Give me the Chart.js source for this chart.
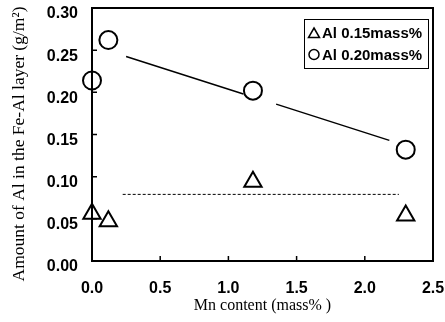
<!DOCTYPE html>
<html>
<head>
<meta charset="utf-8">
<script src="https://cdn.jsdelivr.net/npm/chart.js@4"></script>
<style>
  body { margin: 0; background: #fff; overflow: hidden; }
  canvas { display: block; }
</style>
</head>
<body>
<canvas id="mn-chart" width="445" height="322"></canvas>
<script>
// Mn content (mass%) and Al picked up in the Fe-Al layer (g/m2)
const mnBath015 = [0.0, 0.12, 1.18, 2.3];
const alBath015 = [0.056, 0.047, 0.094, 0.054];
const mnBath020 = [0.0, 0.12, 1.18, 2.3];
const alBath020 = [0.214, 0.262, 0.202, 0.132];

// trend lines (solid one broken around the 1.18 point)
const trend020X = [0.25, 1.11, 1.23, 1.35, 2.18];
const trend020Y = [0.2425, 0.198, null, 0.186, 0.143];
const trend015X = [0.225, 2.25];
const trend015Y = [0.079, 0.079];

const xTicks = [0, 0.5, 1.0, 1.5, 2.0, 2.5];
const yTicks = [0, 0.05, 0.10, 0.15, 0.20, 0.25, 0.30];

const legendItems = ["Al 0.15mass%", "Al 0.20mass%"];

function pts(xs, ys) {
  return xs.map((x, i) => ({x: x, y: ys[i]}));
}

const tickFont = {family: "'Liberation Sans', Arial, sans-serif", size: 16, weight: "bold"};
const plotTop = 8;

// frame, inward tick marks, y title and boxed legend
const decorations = {
  id: "decorations",
  afterLayout(chart) {
    // pull the plot frame up to the top edge
    const a = chart.chartArea;
    const ys = chart.scales.y;
    a.top = plotTop;
    a.height = a.bottom - plotTop;
    ys.top = plotTop;
    ys.height = ys.bottom - plotTop;
    ys.configure();
  },
  beforeDatasetsDraw(chart) {
    const ctx = chart.ctx;
    const a = chart.chartArea;
    const xs = chart.scales.x, ys = chart.scales.y;
    ctx.save();
    ctx.strokeStyle = "#000";
    ctx.lineWidth = 2;
    ctx.strokeRect(a.left, a.top, a.right - a.left, a.bottom - a.top);
    ctx.lineWidth = 1.5;
    ctx.beginPath();
    xTicks.slice(1, -1).forEach(v => {
      const px = xs.getPixelForValue(v);
      ctx.moveTo(px, a.bottom);
      ctx.lineTo(px, a.bottom - 5);
    });
    yTicks.slice(1, -1).forEach(v => {
      const py = ys.getPixelForValue(v);
      ctx.moveTo(a.left, py);
      ctx.lineTo(a.left + 5, py);
    });
    ctx.stroke();

    ctx.fillStyle = "#000";
    ctx.font = "17.5px 'Liberation Serif', 'Times New Roman', serif";
    ctx.translate(19, 144);
    ctx.rotate(-Math.PI / 2);
    ctx.textAlign = "center";
    ctx.textBaseline = "middle";
    ctx.fillText("Amount of Al in the Fe-Al layer (g/m\u00B2)", 0, 0);
    ctx.restore();
  },
  afterDraw(chart) {
    const ctx = chart.ctx;
    ctx.save();
    ctx.strokeStyle = "#000";
    ctx.lineWidth = 1;
    ctx.strokeRect(304.5, 19.5, 124, 49);
    ctx.lineWidth = 1.5;
    // triangle marker
    ctx.beginPath();
    ctx.moveTo(314, 28);
    ctx.lineTo(319.5, 37.5);
    ctx.lineTo(308.5, 37.5);
    ctx.closePath();
    ctx.stroke();
    // circle marker
    ctx.beginPath();
    ctx.arc(314, 54.5, 5, 0, Math.PI * 2);
    ctx.stroke();
    ctx.fillStyle = "#000";
    ctx.font = "bold 15px 'Liberation Sans', Arial, sans-serif";
    ctx.textBaseline = "middle";
    ctx.fillText(legendItems[0], 322, 34);
    ctx.fillText(legendItems[1], 322, 55.5);
    ctx.restore();
  }
};

new Chart(document.getElementById("mn-chart"), {
  type: "scatter",
  data: {
    datasets: [
      {
        label: legendItems[0],
        data: pts(mnBath015, alBath015),
        pointStyle: "triangle",
        pointRadius: 10,
        borderColor: "#000",
        backgroundColor: "rgba(0,0,0,0)",
        pointBorderWidth: 2,
        clip: false
      },
      {
        label: legendItems[1],
        data: pts(mnBath020, alBath020),
        pointStyle: "circle",
        pointRadius: 9,
        borderColor: "#000",
        backgroundColor: "rgba(0,0,0,0)",
        pointBorderWidth: 2,
        clip: false
      },
      {
        type: "line",
        data: pts(trend020X, trend020Y),
        borderColor: "#000",
        borderWidth: 1.5,
        pointRadius: 0,
        spanGaps: false
      },
      {
        type: "line",
        data: pts(trend015X, trend015Y),
        borderColor: "#000",
        borderWidth: 1,
        borderDash: [3, 2],
        pointRadius: 0
      }
    ]
  },
  options: {
    responsive: false,
    animation: false,
    layout: {padding: {left: 0, right: 6, top: 8, bottom: 0}},
    plugins: {
      legend: {display: false},
      tooltip: {enabled: false}
    },
    scales: {
      x: {
        type: "linear",
        min: 0,
        max: 2.5,
        afterBuildTicks: s => { s.ticks = xTicks.map(v => ({value: v})); },
        afterFit: s => { s.height = 61; s.paddingRight = 0; s.paddingLeft = 0; },
        grid: {display: false, drawTicks: false},
        border: {display: false},
        ticks: {
          color: "#000",
          font: tickFont,
          padding: 18,
          maxRotation: 0,
          callback: v => v.toFixed(1)
        },
        title: {
          display: true,
          text: "Mn content (mass% )",
          color: "#000",
          font: {family: "'Liberation Serif', 'Times New Roman', serif", size: 16},
          padding: {top: 2, bottom: 7}
        }
      },
      y: {
        min: 0,
        max: 0.3,
        afterBuildTicks: s => { s.ticks = yTicks.map(v => ({value: v})); },
        afterFit: s => { s.width = 92; },
        grid: {display: false, drawTicks: false},
        border: {display: false},
        ticks: {
          color: "#000",
          font: tickFont,
          padding: 14,
          labelOffset: 6,
          callback: v => v.toFixed(2)
        }
      }
    }
  },
  plugins: [decorations]
});
</script>
</body>
</html>
